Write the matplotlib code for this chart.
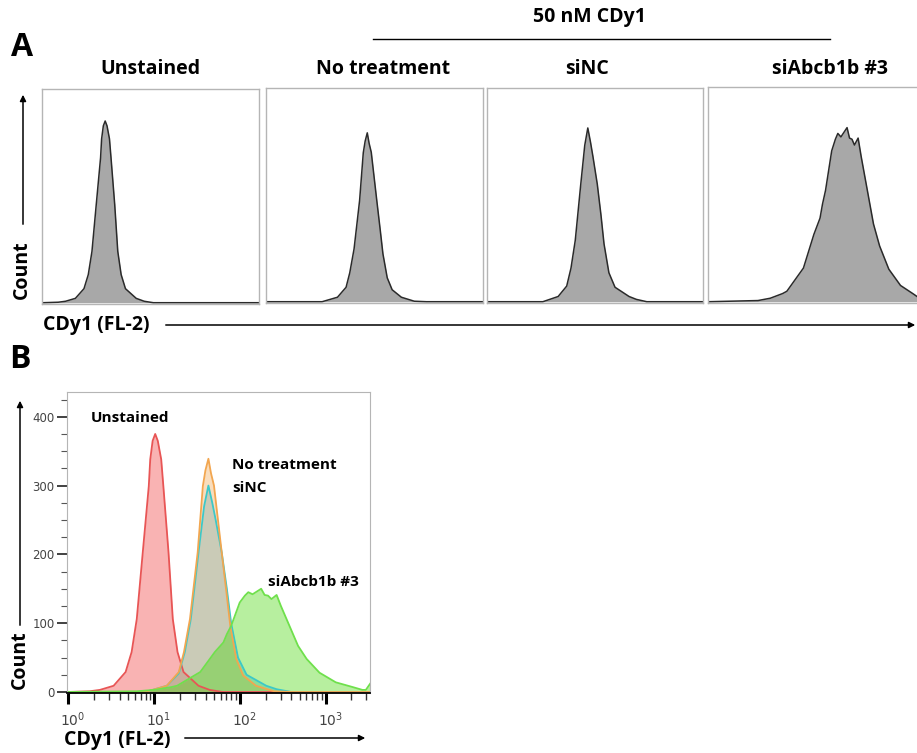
import numpy as np
import matplotlib.pyplot as plt
import matplotlib.transforms as mtransforms
from matplotlib.ticker import FixedLocator, MultipleLocator, LogLocator, NullFormatter

plt.rcParams['font.family'] = ['Open Sans', 'DejaVu Sans']

W, H = 917, 753

samples = ['Unstained', 'No treatment', 'siNC', 'siAbcb1b #3']

# CDy1 (FL-2) intensity as log10 values, with event counts
unst_log = [0.0, 0.25, 0.37, 0.53, 0.67, 0.74, 0.80, 0.87, 0.94, 0.957, 0.985, 1.015,
            1.045, 1.085, 1.11, 1.17, 1.22, 1.275, 1.345, 1.52, 1.65, 1.8, 3.52]
unst_cnt = [0, 1, 3, 9, 29, 58, 106, 203, 299, 338, 365, 375,
            365, 338, 299, 203, 106, 58, 29, 9, 3, 0, 0]

notr_log = [0.0, 0.9, 1.15, 1.29, 1.35, 1.42, 1.51, 1.57, 1.60, 1.635, 1.665, 1.70,
            1.79, 1.845, 1.89, 1.96, 2.04, 2.19, 2.4, 2.6, 3.52]
notr_cnt = [0, 0, 9, 29, 58, 106, 203, 299, 322, 339, 318, 300,
            203, 145, 96, 48, 24, 9, 1, 0, 0]

sinc_log = [0.0, 0.9, 1.15, 1.29, 1.36, 1.43, 1.52, 1.585, 1.635, 1.68, 1.72,
            1.79, 1.85, 1.90, 1.98, 2.08, 2.31, 2.43, 2.6, 3.52]
sinc_cnt = [0, 0, 9, 27, 58, 106, 203, 270, 300, 275, 250,
            203, 150, 100, 50, 25, 9, 4, 0, 0]

abcb_log = [0.0, 0.8, 1.0, 1.2, 1.27, 1.54, 1.71, 1.81, 1.85, 1.90, 2.0, 2.06, 2.10,
            2.15, 2.2, 2.25, 2.29, 2.33, 2.37, 2.43, 2.48, 2.58, 2.68, 2.78, 2.93,
            3.12, 3.32, 3.43, 3.47, 3.52]
abcb_cnt = [0, 1, 3, 7, 9, 29, 58, 72, 84, 96, 130, 140, 145,
            142, 146, 150, 141, 140, 135, 141, 125, 96, 67, 48, 28,
            14, 7, 3, 3, 12]

logs = [unst_log, notr_log, sinc_log, abcb_log]
counts = [unst_cnt, notr_cnt, sinc_cnt, abcb_cnt]

# per-panel y maximum used by the single histograms in A
a_ymax = [441, 429, 369, 185]
b_yticks = [0, 100, 200, 300, 400]


def px(x0, y0, x1, y1):
    return [x0 / W, 1 - y1 / H, (x1 - x0) / W, (y1 - y0) / H]


def ftext(x, y, s, **kw):
    fig.text(x / W, 1 - y / H, s, **kw)


def farrow(x0, y0, x1, y1):
    fig.add_artist(plt.matplotlib.patches.FancyArrowPatch(
        (x0 / W, 1 - y0 / H), (x1 / W, 1 - y1 / H), transform=fig.transFigure,
        arrowstyle='-|>', mutation_scale=9, lw=1.1, color='black'))


fig = plt.figure(figsize=(W / 100, H / 100), dpi=100)

# ---- panel A ----
a_boxes = [(42, 89, 259, 304), (266, 88, 483, 303), (487, 88, 703, 303), (708, 87, 925, 303)]
a_titles_x = [150, 383, 587, 830]
for i in range(4):
    ax = fig.add_axes(px(*a_boxes[i]))
    x = 10 ** np.array(logs[i])
    ax.fill_between(x, counts[i], color='#a8a8a8', lw=0)
    ax.plot(x, counts[i], color='#2a2a2a', lw=1.1)
    ax.set_xscale('log')
    ax.set_xlim(0.97, 3300)
    ax.set_ylim(-a_ymax[i] * 0.006, a_ymax[i])
    ax.set_xticks([])
    ax.set_yticks([])
    ax.minorticks_off()
    for s in ax.spines.values():
        s.set_color('#b5b5b5')
        s.set_linewidth(1)
    ftext(a_titles_x[i], 69, samples[i], ha='center', va='center', fontsize=14, fontweight='bold')

ftext(22, 47, 'A', ha='center', va='center', fontsize=23, fontweight='bold')
ftext(589, 17, '50 nM CDy1', ha='center', va='center', fontsize=14, fontweight='bold')
fig.add_artist(plt.Line2D([373 / W, 830 / W], [1 - 39 / H, 1 - 39 / H], color='black', lw=1))
ftext(22, 270, 'Count', ha='center', va='center', rotation=90, fontsize=14, fontweight='bold')
farrow(23, 227, 23, 92)
ftext(43, 325, 'CDy1 (FL-2)', ha='left', va='center', fontsize=14, fontweight='bold')
farrow(163, 325, 918, 325)

# ---- panel B ----
ftext(20, 360, 'B', ha='center', va='center', fontsize=23, fontweight='bold')
axb = fig.add_axes(px(67, 392, 370, 693))
fills = ['#f04343', '#f0aa5a', '#40b4ea', '#4cd810']
lines = ['#e85555', '#f2a650', '#3cc8c8', '#6fe04c']
for i in [0, 2, 1, 3]:
    x = 10 ** np.array(logs[i])
    axb.fill_between(x, counts[i], color=fills[i], alpha=0.4, lw=0)
    axb.plot(x, counts[i], color=lines[i], lw=1.3)
axb.set_xscale('log')
axb.set_xlim(0.97, 3300)
axb.set_ylim(-1.5, 436)
axb.yaxis.set_major_locator(FixedLocator(b_yticks))
axb.yaxis.set_minor_locator(MultipleLocator(25))
axb.xaxis.set_major_locator(FixedLocator([1, 10, 100, 1000]))
axb.xaxis.set_minor_locator(LogLocator(base=10, subs=np.arange(2, 10)))
axb.xaxis.set_minor_formatter(NullFormatter())
axb.set_xticklabels(['$10^{0}$', '$10^{1}$', '$10^{2}$', '$10^{3}$'])
for s in ['top', 'right', 'left']:
    axb.spines[s].set_color('#b5b5b5')
axb.spines['bottom'].set_color('black')
axb.spines['bottom'].set_linewidth(1.3)
axb.tick_params(axis='y', which='major', length=7, width=1.3, color='#333333', pad=2,
                labelsize=8.5, labelcolor='#444444', labelfontfamily='DejaVu Sans')
axb.tick_params(axis='y', which='minor', length=4, width=0.8, color='#555555')
axb.tick_params(axis='x', which='major', length=8, width=2.2, color='black', pad=5,
                labelsize=10, labelcolor='#444444')
axb.tick_params(axis='x', which='minor', length=5, width=1, color='#333333')
shift = mtransforms.ScaledTranslation(5 / 100, 0, fig.dpi_scale_trans)
for lab in axb.get_xticklabels():
    lab.set_transform(lab.get_transform() + shift)

ftext(130, 418, 'Unstained', ha='center', va='center', fontsize=11, fontweight='bold')
ftext(232, 465, 'No treatment', ha='left', va='center', fontsize=11, fontweight='bold')
ftext(232, 488, 'siNC', ha='left', va='center', fontsize=11, fontweight='bold')
ftext(268, 582, 'siAbcb1b #3', ha='left', va='center', fontsize=11, fontweight='bold')
ftext(20, 660, 'Count', ha='center', va='center', rotation=90, fontsize=14, fontweight='bold')
farrow(20, 628, 20, 398)
ftext(64, 740, 'CDy1 (FL-2)', ha='left', va='center', fontsize=14, fontweight='bold')
farrow(182, 738, 368, 738)

fig.savefig('out.png', dpi=100)
